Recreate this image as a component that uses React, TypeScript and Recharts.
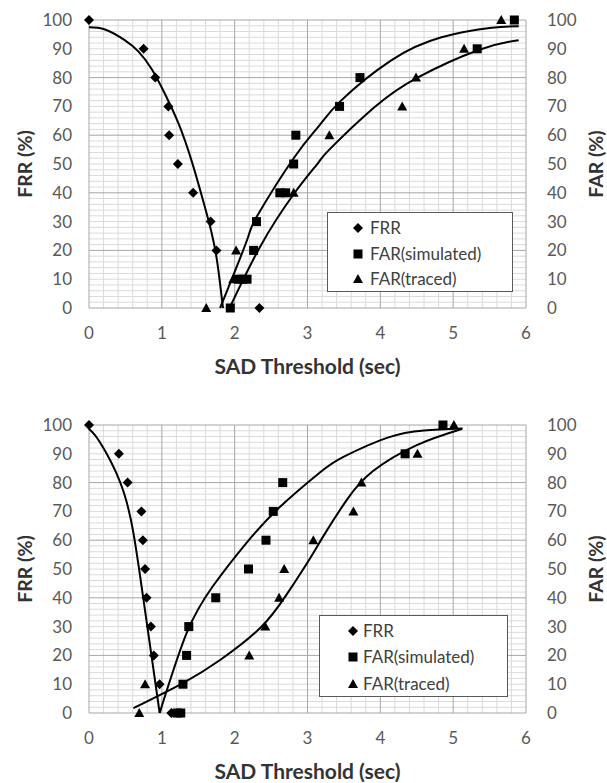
import React from "react"
import { ComposedChart, Scatter, Line, XAxis, YAxis, ReferenceLine, Legend } from "recharts"

// axis ticks and grid steps
const xTicks = [0, 1, 2, 3, 4, 5, 6]
const yTicks = [0, 10, 20, 30, 40, 50, 60, 70, 80, 90, 100]
const xMinor = Array.from({ length: 31 }, (_, i) => (i * 2) / 10)
const yMinor = Array.from({ length: 51 }, (_, i) => i * 2)
const yMajor = [0, 20, 40, 60, 80, 100]

// ---- top panel: measured points ----
const frrTop = [
  { x: 0, y: 100 }, { x: 0.75, y: 90 }, { x: 0.91, y: 80 }, { x: 1.09, y: 70 },
  { x: 1.1, y: 60 }, { x: 1.22, y: 50 }, { x: 1.43, y: 40 }, { x: 1.67, y: 30 },
  { x: 1.75, y: 20 }, { x: 2.34, y: 0 },
]
const simTop = [
  { x: 1.94, y: 0 }, { x: 2.05, y: 10 }, { x: 2.11, y: 10 }, { x: 2.17, y: 10 },
  { x: 2.26, y: 20 }, { x: 2.3, y: 30 }, { x: 2.62, y: 40 }, { x: 2.7, y: 40 },
  { x: 2.81, y: 50 }, { x: 2.84, y: 60 }, { x: 3.44, y: 70 }, { x: 3.72, y: 80 },
  { x: 5.33, y: 90 }, { x: 5.84, y: 100 },
]
const tracedTop = [
  { x: 1.61, y: 0 }, { x: 1.98, y: 10 }, { x: 2.02, y: 20 }, { x: 2.81, y: 40 },
  { x: 3.3, y: 60 }, { x: 4.3, y: 70 }, { x: 4.49, y: 80 }, { x: 5.15, y: 90 },
  { x: 5.66, y: 100 },
]
// top panel: trendlines
const frrTrendTop = [
  { x: 0, y: 97.5 }, { x: 0.22, y: 96.7 }, { x: 0.49, y: 93 }, { x: 0.68, y: 89 },
  { x: 0.86, y: 83 }, { x: 1.04, y: 74.5 }, { x: 1.23, y: 64 }, { x: 1.41, y: 51 },
  { x: 1.57, y: 37 }, { x: 1.68, y: 26.5 }, { x: 1.76, y: 16 }, { x: 1.84, y: 0 },
]
const simTrendTop = [
  { x: 1.8, y: 0 }, { x: 2.17, y: 23.6 }, { x: 2.31, y: 32 }, { x: 2.81, y: 52 },
  { x: 3.15, y: 63 }, { x: 3.46, y: 72 }, { x: 4.15, y: 86 }, { x: 4.84, y: 94 },
  { x: 5.53, y: 97.3 }, { x: 5.9, y: 97.8 },
]
const tracedTrendTop = [
  { x: 1.93, y: 0 }, { x: 2.35, y: 21.3 }, { x: 2.81, y: 39.5 }, { x: 3.15, y: 50.5 },
  { x: 3.32, y: 55.5 }, { x: 3.91, y: 69.5 }, { x: 4.51, y: 80 }, { x: 5.35, y: 89.6 },
  { x: 5.9, y: 93 },
]

// ---- bottom panel: measured points ----
const frrBottom = [
  { x: 0, y: 100 }, { x: 0.41, y: 90 }, { x: 0.53, y: 80 }, { x: 0.72, y: 70 },
  { x: 0.74, y: 60 }, { x: 0.77, y: 50 }, { x: 0.79, y: 40 }, { x: 0.85, y: 30 },
  { x: 0.89, y: 20 }, { x: 0.97, y: 10 }, { x: 1.13, y: 0 },
]
const simBottom = [
  { x: 1.21, y: 0 }, { x: 1.26, y: 0 }, { x: 1.29, y: 10 }, { x: 1.34, y: 20 },
  { x: 1.37, y: 30 }, { x: 1.74, y: 40 }, { x: 2.19, y: 50 }, { x: 2.43, y: 60 },
  { x: 2.53, y: 70 }, { x: 2.66, y: 80 }, { x: 4.34, y: 90 }, { x: 4.86, y: 100 },
]
const tracedBottom = [
  { x: 0.69, y: 0 }, { x: 0.77, y: 10 }, { x: 2.2, y: 20 }, { x: 2.42, y: 30 },
  { x: 2.61, y: 40 }, { x: 2.68, y: 50 }, { x: 3.08, y: 60 }, { x: 3.63, y: 70 },
  { x: 3.74, y: 80 }, { x: 4.51, y: 90 }, { x: 5.01, y: 100 },
]
const frrTrendBottom = [
  { x: 0, y: 98.6 }, { x: 0.15, y: 94 }, { x: 0.43, y: 80 }, { x: 0.61, y: 62.5 },
  { x: 0.75, y: 39 }, { x: 0.88, y: 16 }, { x: 0.97, y: 0 },
]
const simTrendBottom = [
  { x: 0.97, y: 0 }, { x: 1.34, y: 27.7 }, { x: 1.7, y: 44 }, { x: 2.16, y: 59 },
  { x: 2.62, y: 71.5 }, { x: 3.17, y: 83.5 }, { x: 3.5, y: 89 }, { x: 4.1, y: 95.6 },
  { x: 4.6, y: 98.1 }, { x: 5.13, y: 98.8 },
]
const tracedTrendBottom = [
  { x: 0.61, y: 1.7 }, { x: 1.29, y: 10.4 }, { x: 1.8, y: 18.4 }, { x: 2.35, y: 29.5 },
  { x: 2.71, y: 41 }, { x: 3.03, y: 53.5 }, { x: 3.22, y: 61.5 }, { x: 3.54, y: 74 },
  { x: 3.9, y: 84 }, { x: 4.5, y: 93 }, { x: 5.12, y: 98.6 },
]

const legendNames = ["FRR", "FAR(simulated)", "FAR(traced)"]

const FONT = "Lato, 'Open Sans', sans-serif"
const TICK = { fill: "#595959", fontSize: 17, fontFamily: FONT }
const TITLE = { fontFamily: FONT, fontWeight: 700, fill: "#333" }

const diamond = ({ cx, cy }) => (
  <path d={`M${cx},${cy - 5}L${cx + 5},${cy}L${cx},${cy + 5}L${cx - 5},${cy}Z`} fill="#000" />
)
const square = ({ cx, cy }) => <rect x={cx - 4.5} y={cy - 4.5} width={9} height={9} fill="#000" />
const triangle = ({ cx, cy }) => (
  <path d={`M${cx},${cy - 5}L${cx + 5},${cy + 4}L${cx - 5},${cy + 4}Z`} fill="#000" />
)
const shapes = [diamond, square, triangle]

function LegendBox({ markX, textX, rowH, padTop }) {
  return (
    <div style={{ width: "100%", height: "100%", boxSizing: "border-box", border: "1px solid #595959", background: "#fff", paddingTop: padTop, fontFamily: FONT, fontSize: 17, color: "#404040" }}>
      {legendNames.map((name, i) => (
        <div key={name} style={{ position: "relative", height: rowH, lineHeight: `${rowH}px` }}>
          <svg width={12} height={12} style={{ position: "absolute", left: markX - 6, top: rowH / 2 - 6 }}>
            {shapes[i]({ cx: 6, cy: 6 })}
          </svg>
          <span style={{ position: "absolute", left: textX }}>{name}</span>
        </div>
      ))}
    </div>
  )
}

function Panel({ height, bottom, points, trends, legend }) {
  const axisFor = (i) => (i === 0 ? 0 : "right")
  return (
    <ComposedChart width={607} height={height} margin={{ top: 20, right: 0, bottom, left: 0 }}>
      {/* minor then major grid */}
      {xMinor.filter((v) => !xTicks.includes(v)).map((v) => (
        <ReferenceLine key={"gx" + v} x={v} stroke="#dadada" />
      ))}
      {yMinor.filter((v) => !yMajor.includes(v)).map((v) => (
        <ReferenceLine key={"gy" + v} y={v} stroke="#dadada" />
      ))}
      {xTicks.map((v) => (
        <ReferenceLine key={"mx" + v} x={v} stroke="#a6a6a6" />
      ))}
      {yMajor.map((v) => (
        <ReferenceLine key={"my" + v} y={v} stroke="#a6a6a6" />
      ))}
      <XAxis
        type="number"
        dataKey="x"
        domain={[0, 6]}
        ticks={xTicks}
        axisLine={false}
        tickLine={false}
        tickSize={0}
        tickMargin={19}
        height={70}
        tick={TICK}
        label={{ value: "SAD Threshold (sec)", position: "insideTop", offset: 51, style: { ...TITLE, fontSize: 21 } }}
      />
      <YAxis
        domain={[0, 100]}
        ticks={yTicks}
        width={89}
        axisLine={false}
        tickLine={false}
        tickSize={0}
        tickMargin={17}
        tick={TICK}
        label={{ value: "FRR (%)", angle: -90, position: "insideLeft", offset: 25, style: { ...TITLE, textAnchor: "middle", fontSize: 19.5 } }}
      />
      <YAxis
        yAxisId="right"
        orientation="right"
        domain={[0, 100]}
        ticks={yTicks}
        width={81}
        axisLine={false}
        tickLine={false}
        tickSize={0}
        tickMargin={21}
        tick={TICK}
        label={{ value: "FAR (%)", angle: -90, position: "insideRight", offset: 11, style: { ...TITLE, textAnchor: "middle", fontSize: 19.5 } }}
      />
      {trends.map((t, i) => (
        <Line key={"t" + i} yAxisId={axisFor(i)} data={t} dataKey="y" type="natural" stroke="#000" strokeWidth={2} dot={false} activeDot={false} isAnimationActive={false} />
      ))}
      {points.map((p, i) => (
        <Scatter key={"s" + i} yAxisId={axisFor(i)} name={legendNames[i]} data={p} dataKey="y" shape={shapes[i]} isAnimationActive={false} />
      ))}
      <Legend
        layout="vertical"
        align="center"
        verticalAlign="middle"
        content={() => <LegendBox {...legend} />}
        wrapperStyle={{ position: "absolute", left: legend.left, top: legend.top, width: legend.width, height: legend.height }}
      />
    </ComposedChart>
  )
}

export default function App() {
  return (
    <div style={{ width: 607, height: 783, background: "#fff" }}>
      <style>{"body{margin:0;overflow:hidden;background:#fff}"}</style>
      <Panel
        height={405}
        bottom={27}
        points={[frrTop, simTop, tracedTop]}
        trends={[frrTrendTop, simTrendTop, tracedTrendTop]}
        legend={{ left: 327, top: 212, width: 186, height: 80, markX: 30, textX: 42, rowH: 25.7, padTop: 2 }}
      />
      <Panel
        height={378}
        bottom={0}
        points={[frrBottom, simBottom, tracedBottom]}
        trends={[frrTrendBottom, simTrendBottom, tracedTrendBottom]}
        legend={{ left: 319, top: 210, width: 189, height: 82, markX: 33, textX: 43, rowH: 26.5, padTop: 1.5 }}
      />
    </div>
  )
}
